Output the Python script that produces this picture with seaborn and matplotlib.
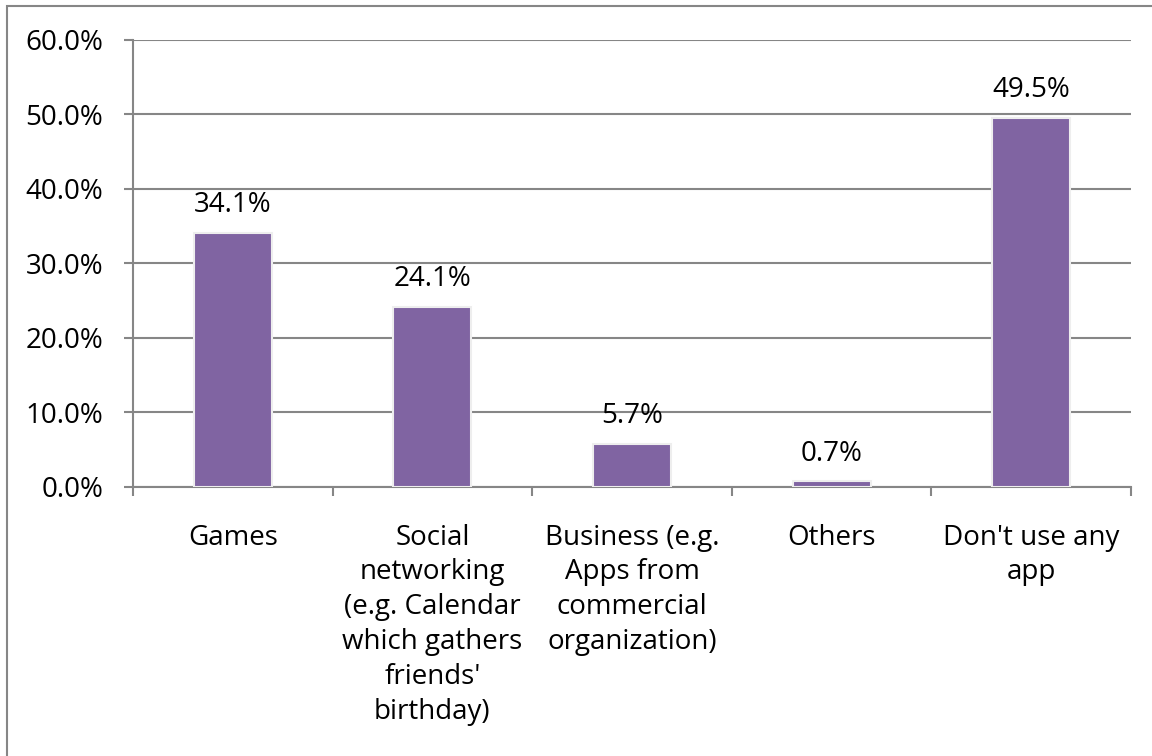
import matplotlib
matplotlib.use("Agg")
import matplotlib.pyplot as plt
import matplotlib.patches as mpatches
from matplotlib.ticker import FixedLocator, PercentFormatter
import seaborn as sns
import pandas as pd

categories = [
    "Games",
    "Social\nnetworking\n(e.g. Calendar\nwhich gathers\nfriends'\nbirthday)",
    "Business (e.g.\nApps from\ncommercial\norganization)",
    "Others",
    "Don't use any\napp",
]
shares = [34.1, 24.1, 5.7, 0.7, 49.5]
y_ticks = [0, 10, 20, 30, 40, 50, 60]

sns.set_theme(style="white")
plt.rcParams["font.family"] = ["Open Sans", "DejaVu Sans"]

df = pd.DataFrame({"category": categories, "share": shares})

W, H = 1152, 756
fig = plt.figure(figsize=(W / 100, H / 100), dpi=100)
left, right, top, bottom = 133, 1131, 39.5, 486.7
ax = fig.add_axes([left / W, 1 - bottom / H, (right - left) / W, (bottom - top) / H])

grid_color = "#868686"
fs = 20

sns.barplot(data=df, x="category", y="share", color="#8064A2", width=0.39,
            saturation=1, edgecolor="#eeeeee", linewidth=1.5, ax=ax, zorder=3)

ax.set_ylim(0, 60)
ax.set_xlim(-0.5, len(categories) - 0.5)
ax.yaxis.set_major_locator(FixedLocator(y_ticks))
ax.yaxis.set_major_formatter(PercentFormatter(decimals=1))
ax.grid(axis="y", color=grid_color, linewidth=1.5, zorder=0)
ax.set_axisbelow(True)

for side in ["top", "right"]:
    ax.spines[side].set_visible(False)
for side in ["left", "bottom"]:
    ax.spines[side].set_color(grid_color)
    ax.spines[side].set_linewidth(1.5)

ax.set_xlabel("")
ax.set_ylabel("")
ax.tick_params(axis="y", which="major", left=True, length=6.5, width=1.5,
               color=grid_color, labelsize=fs, labelcolor="black", pad=15)
ax.tick_params(axis="x", which="major", bottom=False, labelsize=fs,
               labelcolor="black", pad=20.5)
ax.xaxis.set_minor_locator(FixedLocator([i - 0.5 for i in range(len(categories) + 1)]))
ax.tick_params(axis="x", which="minor", bottom=True, length=6.5, width=1.5,
               color=grid_color)
for lbl in ax.get_xticklabels():
    lbl.set_linespacing(1.33)
    lbl.set_verticalalignment("top")
    lbl.set_multialignment("center")

for container in ax.containers:
    ax.bar_label(container, labels=[f"{v:.1f}%" for v in shares],
                 padding=10, fontsize=fs, color="black")

# outer chart frame
fig.patches.append(mpatches.Rectangle((7 / W, -0.05), 1.2, 1 - 6 / H + 0.05,
                                      transform=fig.transFigure, fill=False,
                                      edgecolor=grid_color, linewidth=1.5))

fig.savefig("out.png", dpi=100)
